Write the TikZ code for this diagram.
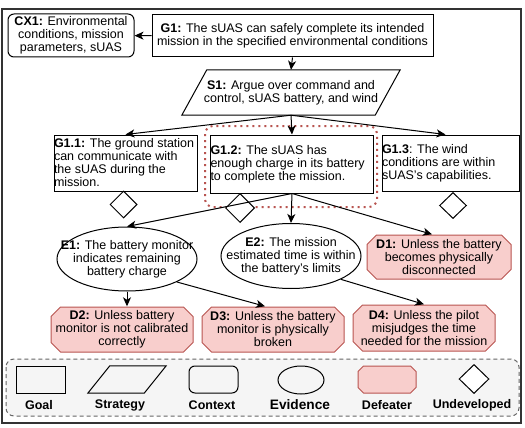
\documentclass[tikz,border=0pt]{standalone}
\usepackage{fontspec}
\setmainfont{Liberation Sans}
\usepackage{xcolor}
\usetikzlibrary{arrows.meta,shapes.geometric,positioning}
\definecolor{defill}{HTML}{F8CECC}
\definecolor{defline}{HTML}{B85450}
\definecolor{legfill}{HTML}{F5F5F5}
\definecolor{legline}{HTML}{666666}
\definecolor{framecol}{HTML}{333333}
\tikzset{
	defeater/.style={inner sep=0pt, align=center, path picture={
		\draw [defline, fill=defill, line width=1pt, line join=miter]
			([xshift=#1, yshift=-0.5pt]path picture bounding box.north west) -- ([xshift=-#1, yshift=-0.5pt]path picture bounding box.north east)
			-- ([xshift=-0.5pt, yshift=-#1]path picture bounding box.north east) -- ([xshift=-0.5pt, yshift=#1]path picture bounding box.south east)
			-- ([xshift=-#1, yshift=0.5pt]path picture bounding box.south east) -- ([xshift=#1, yshift=0.5pt]path picture bounding box.south west)
			-- ([xshift=0.5pt, yshift=#1]path picture bounding box.south west) -- ([xshift=0.5pt, yshift=-#1]path picture bounding box.north west) -- cycle;}},
	defeater/.default=10pt
}

\begin{document}
\begin{tikzpicture}[x=1pt,y=-1pt]
			\tikzstyle{every node}=[font=\fontsize{12.5}{13}\selectfont]
			\tikzstyle{goal}=[draw, line width=1pt, inner xsep=0pt, inner ysep=0pt, align=flush left]
			\tikzstyle{context}=[draw, line width=1pt, rounded corners=6pt, inner sep=0pt, align=center]
			\tikzstyle{strategy}=[inner sep=0pt, align=center]
			\tikzstyle{stratline}=[line width=1pt, line join=miter]
			\tikzstyle{evidence}=[draw, line width=1pt, ellipse, inner sep=0pt]
			\tikzstyle{undev}=[draw, fill=white, line width=1pt, diamond, inner sep=0pt]
			\tikzstyle{arr}=[line width=1pt, ->, >={Stealth[length=9pt,width=8pt,inset=2.5pt]}]
			\tikzstyle{lbl}=[font=\bfseries\fontsize{12.5}{13}\selectfont]
			\useasboundingbox (0,0) rectangle (525,428);
			\draw [line width=1.2pt, framecol] (2,9) rectangle (521,423);
			\draw [line width=1pt, legline, fill=legfill, dash pattern=on 4pt off 3pt, rounded corners=8pt] (6,359) rectangle (519,416);
			\draw [line width=2pt, defline, dash pattern=on 2pt off 4pt, rounded corners=8pt] (205,126) rectangle (377,207);
			\node [context, minimum width=126pt, minimum height=43pt] (CX1) at (71,35.5) {\textbf{CX1:} Environmental\\conditions, mission\\parameters, sUAS};
			\node [goal, align=center, minimum width=281pt, minimum height=42pt] (G1) at (292.5,36) {\textbf{G1:} The sUAS can safely complete its intended\\mission in the specified environmental conditions};
			\node [strategy, minimum width=218pt, minimum height=45pt] (S1) at (291,92.5) {\textbf{S1:} Argue over command and\\control, sUAS battery, and wind};
			\draw [stratline] (S1.south west) -- ([xshift=25pt]S1.north west) -- (S1.north east) -- ([xshift=-25pt]S1.south east) -- cycle;
			\node [goal, text width=143pt, minimum height=56pt] (G11) at (125.5,163) {\textbf{G1.1:} The ground station\\can communicate with\\the sUAS during the\\mission.};
			\node [goal, text width=163pt, minimum height=58pt] (G12) at (292,164) {\textbf{G1.2:} The sUAS has\\enough charge in its battery\\to complete the mission.};
			\node [goal, text width=137pt, minimum height=56pt] (G13) at (450.5,163) {\textbf{G1.3}: The wind\\conditions are within\\sUAS's capabilities.};
			\node [undev, minimum width=27pt, minimum height=27pt] (U1) at (123.5,204.5) {};
			\node [undev, minimum width=29pt, minimum height=29pt] (U2) at (240,208) {};
			\node [undev, minimum width=27pt, minimum height=26pt] (U3) at (453,205.5) {};
			\node [evidence, minimum width=140pt, minimum height=64pt, label={[align=center]center:{\textbf{E1:} The battery monitor\\indicates remaining\\battery charge}}] (E1) at (127,259) {};
			\node [evidence, minimum width=140pt, minimum height=65pt, label={[align=center]center:{\textbf{E2:} The mission\\estimated time is within\\the battery's limits}}] (E2) at (291,256) {};
			\node [defeater, minimum width=145pt, minimum height=45pt] (D1) at (439,257) {\textbf{D1:} Unless the battery\\becomes physically\\disconnected};
			\node [defeater, minimum width=143pt, minimum height=46pt] (D2) at (122,329.5) {\textbf{D2:} Unless battery\\monitor is not calibrated\\correctly};
			\node [defeater, minimum width=143pt, minimum height=46pt] (D3) at (273,329.5) {\textbf{D3:} Unless the battery\\monitor is physically\\broken};
			\node [defeater, minimum width=143pt, minimum height=47pt] (D4) at (424,328) {\textbf{D4:} Unless the pilot\\misjudges the time\\needed for the mission};
			\draw [arr] (G1) -- (CX1);
			\draw [arr] (G1.south) -- (S1.north);
			\draw [arr] (S1.south) -- (G11.north);
			\draw [arr] (S1.south) -- (G12.north);
			\draw [arr] (S1.south) -- ([xshift=-5pt]G13.north);
			\draw [arr] (G12.south) -- (E1.north);
			\draw [arr] (G12.south) -- (E2.north);
			\draw [arr] (G12.south) -- ([xshift=-7pt]D1.north);
			\draw [arr] (E1.south) -- (E1.south |- D2.north);
			\draw [arr] (E1.south east) -- ([xshift=-8pt]D3.north);
			\draw [arr] (E2.south east) -- (D4.north);
			\node [draw, line width=1pt, minimum width=49pt, minimum height=27pt, inner sep=0pt] (LGoal) at (40.5,379.5) {};
			\node [strategy, minimum width=78pt, minimum height=27pt] (LStrategy) at (127,379.5) {};
			\draw [stratline] (LStrategy.south west) -- ([xshift=22pt]LStrategy.north west) -- (LStrategy.north east) -- ([xshift=-22pt]LStrategy.south east) -- cycle;
			\node [context, minimum width=49pt, minimum height=27pt] (LContext) at (213.5,379.5) {};
			\node [evidence, minimum width=46pt, minimum height=28pt] (LEvidence) at (301,380) {};
			\node [defeater=6pt, minimum width=59pt, minimum height=28pt] (LDefeater) at (387,379.5) {};
			\node [undev, minimum width=30pt, minimum height=29pt] (LUndev) at (474,379) {};
			\node [lbl] (tGoal) at (39,405) {Goal};
			\node [lbl] (tStrategy) at (120,405) {Strategy};
			\node [lbl] (tContext) at (212,405) {Context};
			\node [lbl, font=\bfseries\fontsize{13.7}{14}\selectfont] (tEvidence) at (300,405) {Evidence};
			\node [lbl] (tDefeater) at (387,405) {Defeater};
			\node [lbl] (tUndev) at (472,405) {Undeveloped};
		\end{tikzpicture}
\end{document}
